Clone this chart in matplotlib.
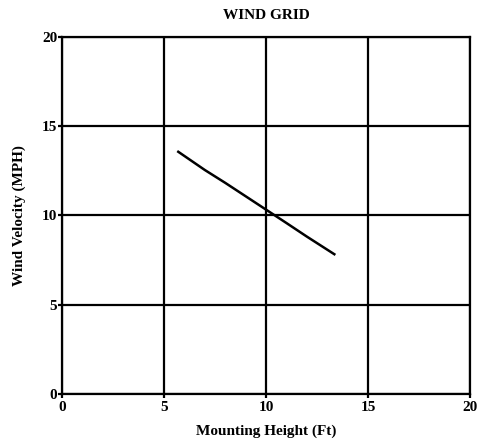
import matplotlib
matplotlib.use("Agg")
import matplotlib.pyplot as plt

heights = [5.7, 7.0, 8.0, 9.0, 10.0, 11.0, 12.0, 13.35]
velocity = [13.57, 12.55, 11.83, 11.08, 10.33, 9.58, 8.82, 7.83]
ticks = [0, 5, 10, 15, 20]

plt.rcParams['font.family'] = ['Liberation Serif', 'DejaVu Serif']
plt.rcParams['font.weight'] = 'bold'

fig = plt.figure(figsize=(4.8, 4.4), dpi=100)
ax = fig.add_axes([62/480, 46/440, 408/480, 357/440])
ax.plot(heights, velocity, color='black', lw=1.8, zorder=3)
ax.set_xlim(0, 20)
ax.set_ylim(0, 20)
ax.set_xticks(ticks)
ax.set_yticks(ticks)
ax.grid(True, color='black', lw=1.6)
for s in ax.spines.values():
    s.set_linewidth(1.6)
ax.tick_params(direction='out', length=3, width=1.6, labelsize=11)
ax.tick_params(axis='x', pad=2)
ax.tick_params(axis='y', pad=0.5)
for lab in ax.get_xticklabels() + ax.get_yticklabels():
    lab.set_fontweight('bold')
ax.set_title('WIND GRID', fontsize=11, fontweight='bold', pad=13)
ax.set_xlabel('Mounting Height (Ft)', fontsize=11, fontweight='bold', labelpad=7.5)
ax.set_ylabel('Wind Velocity (MPH)', fontsize=11, fontweight='bold', labelpad=11)
fig.savefig('out.png', dpi=100)
